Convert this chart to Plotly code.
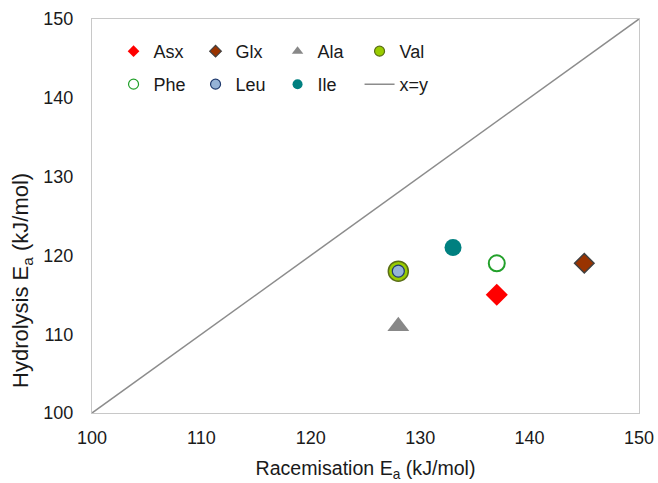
import plotly.graph_objects as go

names = ["Asx", "Glx", "Ala", "Val", "Phe", "Leu", "Ile"]
racemisation = [137, 145, 128, 128, 137, 128, 133]
hydrolysis = [115, 119, 111, 118, 119, 118, 121]
line_x = [100, 150]
line_y = [100, 150]
row1 = ["Asx", "Glx", "Ala", "Val"]

styles = {
    "Asx": dict(symbol="diamond", size=17, color="#ff0000", line=dict(color="#ff0000", width=0)),
    "Glx": dict(symbol="diamond", size=15, color="#993300", line=dict(color="#404040", width=1.5)),
    "Ala": dict(symbol="triangle-up", size=19, color="#888888", line=dict(color="#888888", width=0)),
    "Val": dict(symbol="circle", size=20, color="#99cc00", line=dict(color="#5a6e16", width=1.5)),
    "Phe": dict(symbol="circle", size=16, color="white", line=dict(color="#22a02a", width=2)),
    "Leu": dict(symbol="circle", size=12, color="#95b3d7", line=dict(color="#1f3a6e", width=1.2)),
    "Ile": dict(symbol="circle", size=17, color="#008080", line=dict(color="#008080", width=0)),
}
legend_size = {"Asx": 9, "Glx": 9, "Ala": 10, "Val": 10, "Phe": 10, "Leu": 10, "Ile": 10}

fig = go.Figure()
fig.add_trace(go.Scatter(x=line_x, y=line_y, mode="lines", line=dict(color="#8c8c8c", width=1.5),
                         showlegend=False, hoverinfo="skip"))
for n, xv, yv in zip(names, racemisation, hydrolysis):
    st = styles[n]
    fig.add_trace(go.Scatter(x=[xv], y=[yv], mode="markers", name=n, showlegend=False,
                             marker=dict(symbol=st["symbol"], size=st["size"], color=st["color"], line=st["line"])))
for n in names:
    st = styles[n]
    ln = dict(st["line"])
    ln["width"] = min(ln["width"], 1.2)
    fig.add_trace(go.Scatter(x=[None], y=[None], mode="markers", name=n,
                             legend="legend" if n in row1 else "legend2",
                             marker=dict(symbol=st["symbol"], size=legend_size[n], color=st["color"], line=ln)))
fig.add_trace(go.Scatter(x=[None], y=[None], mode="lines", name="x=y", legend="legend2",
                         line=dict(color="#8c8c8c", width=1.5)))

axis_common = dict(range=[100, 150], dtick=10, showgrid=False, zeroline=False,
                   showline=True, linecolor="#c8c8c8", linewidth=1.2, mirror=True,
                   ticks="", tickfont=dict(size=18, color="#1a1a1a"), automargin=False)
leg_common = dict(orientation="h", xanchor="left", yanchor="top",
                  entrywidth=37, entrywidthmode="pixels", bgcolor="rgba(0,0,0,0)",
                  font=dict(size=18, color="#1a1a1a"), itemwidth=30)
fig.update_layout(
    width=658, height=483,
    margin=dict(l=92, r=19, t=19, b=70),
    paper_bgcolor="white", plot_bgcolor="white",
    font=dict(family="Liberation Sans, Arial, sans-serif", size=18, color="#1a1a1a"),
    xaxis=dict(**axis_common, ticklabelstandoff=8,
               title=dict(text="Racemisation E<sub>a</sub> (kJ/mol)", font=dict(size=19.6), standoff=14)),
    yaxis=dict(**axis_common, ticklabelstandoff=14),
    legend=dict(**leg_common, x=0.0394, y=0.9646),
    legend2=dict(**leg_common, x=0.0394, y=0.8808),
    showlegend=True,
    annotations=[dict(text="Hydrolysis E<sub>a</sub> (kJ/mol)", textangle=-90, showarrow=False,
                      xref="paper", yref="paper", x=-0.128, y=0.3376, xanchor="center", yanchor="middle",
                      font=dict(size=22, color="#1a1a1a"))],
)
fig.write_html("out.html", config={"displayModeBar": False},
               post_script="document.body.style.margin='0';document.body.style.overflow='hidden';")
